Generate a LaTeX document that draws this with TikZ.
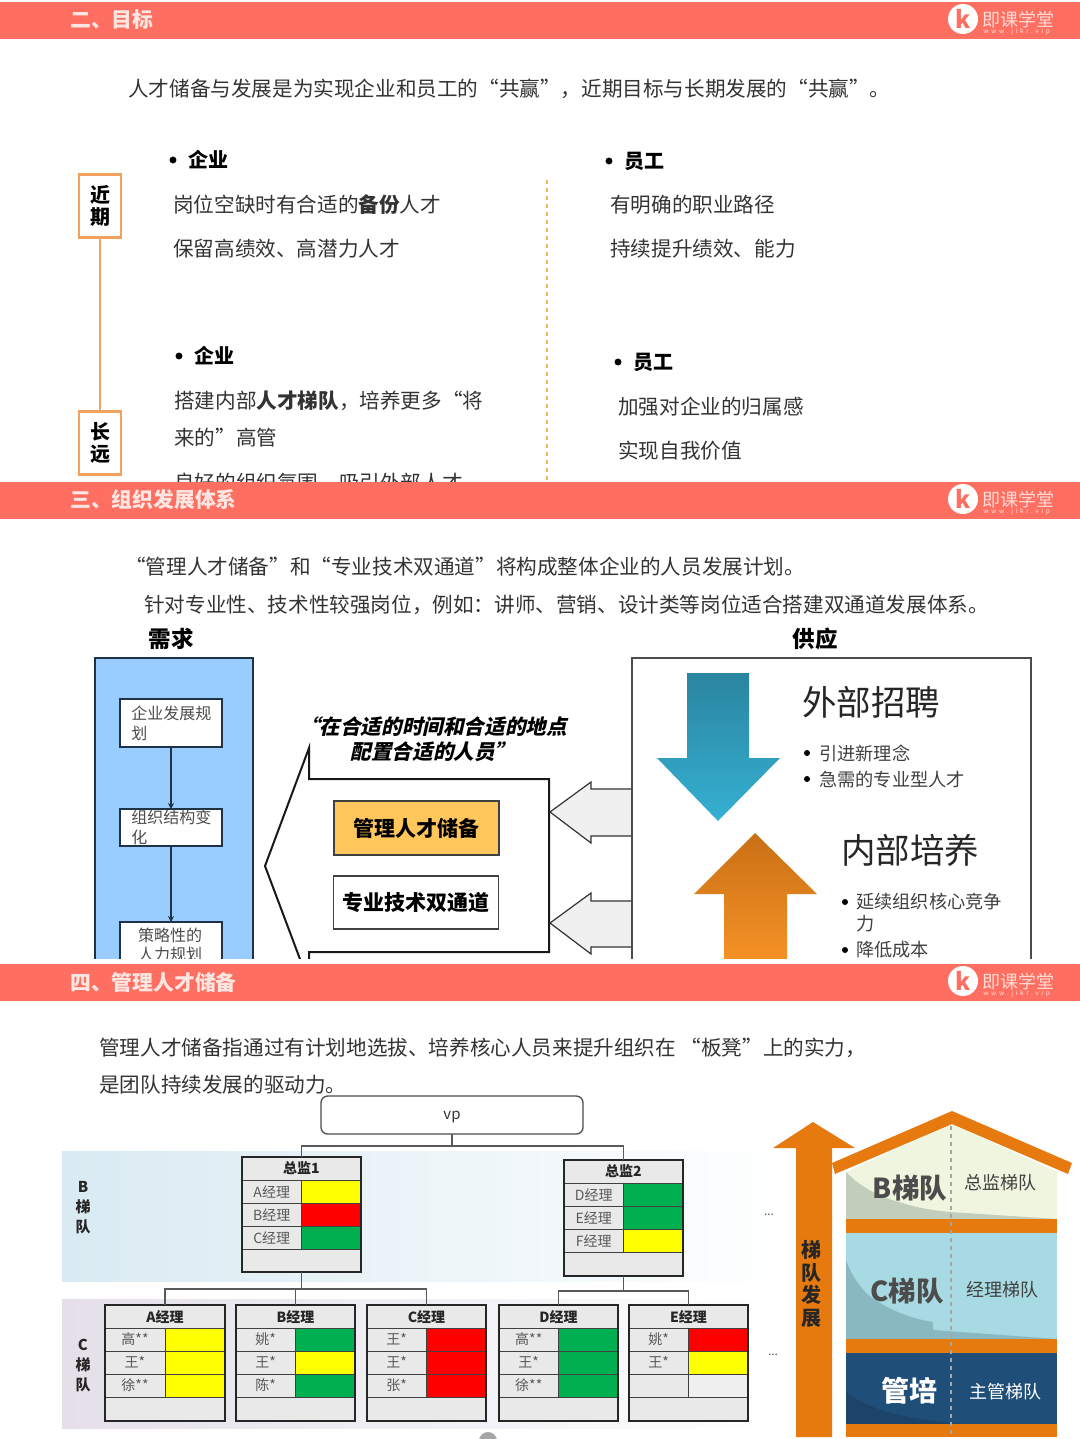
\documentclass[tikz,border=0pt]{standalone}
\usepackage{fontspec}
\setmainfont{Noto Sans CJK SC}
\newfontfamily\slantfont[FakeSlant=0.22]{Noto Sans CJK SC}
\usetikzlibrary{positioning}

\definecolor{bandred}{HTML}{FF6F61}
\definecolor{bandtext}{HTML}{FCE6E1}
\definecolor{logotext}{HTML}{FFDDD6}
\definecolor{bodytext}{HTML}{333333}
\definecolor{termorange}{HTML}{F2A25C}
\definecolor{dashorange}{HTML}{F5B75A}
\definecolor{panelblue}{HTML}{99CCFF}
\definecolor{panelline}{HTML}{1F3347}
\definecolor{keyorange}{HTML}{FFC65C}
\definecolor{houseorange}{HTML}{E67A0F}
\definecolor{cellgray}{HTML}{E9E9E9}
\definecolor{mgryellow}{HTML}{FFFF00}
\definecolor{mgrred}{HTML}{FF0000}
\definecolor{mgrgreen}{HTML}{00B050}
\definecolor{mgrblank}{HTML}{EFEFEF}
\definecolor{downtop}{HTML}{2A85A0}
\definecolor{downend}{HTML}{35B0D2}
\definecolor{uptop}{HTML}{C96F15}
\definecolor{upend}{HTML}{FA9628}
\definecolor{bandbleft}{HTML}{D9EAF2}
\definecolor{bandbmid}{HTML}{DEE3E6}
\definecolor{bandcleft}{HTML}{E4DFE9}
\definecolor{bandcmid}{HTML}{E8E6EA}
\definecolor{roofpale}{HTML}{EFF5DF}
\definecolor{roofshade}{HTML}{C3CDBB}
\definecolor{midpale}{HTML}{A8DAE3}
\definecolor{midshade}{HTML}{89B8C1}
\definecolor{basedark}{HTML}{1F4E79}
\definecolor{baseshade}{HTML}{1B4468}

\newcommand{\pxsize}[1]{\fontsize{\fpeval{#1*0.75}}{\fpeval{#1*0.9}}\selectfont}

\tikzset{
  txt/.style={anchor=west, inner sep=0, yshift=-0.75pt, text=bodytext, font=\pxsize{20.6}},
  head/.style={anchor=west, inner sep=0, text=black, font=\pxsize{20}\bfseries},
  dot/.style={circle, fill=black, inner sep=0, minimum size=5.2},
  pxbox/.style 2 args={minimum width=#1*0.75pt, minimum height=#2*0.75pt, inner sep=0, outer sep=0},
  termbox/.style={pxbox={42}{63}, draw=termorange, line width=1.8pt, fill=white, align=center,
    font=\pxsize{20}\bfseries\linespread{0.95}\selectfont},
  flowbox/.style={pxbox={102}{#1}, draw=panelline, line width=1pt, fill=white},
  flowtxt/.style={inner sep=0, text=black!70, font=\pxsize{16}, align=left},
  bigtxt/.style={anchor=west, inner sep=0, text=black!85, font=\pxsize{34.5}},
  listtxt/.style={anchor=west, inner sep=0, text=black!75, font=\pxsize{18.2}},
  routebox/.style={pxbox={165}{#1}, draw=black!75, line width=1.1pt, font=\pxsize{21}\bfseries},
  grayarrow/.style={draw=black!80, line width=0.9pt, fill=black!6},
  tablebox/.style 2 args={pxbox={#1}{#2}, anchor=north west, draw=black!85, line width=1.5pt},
  tree/.style={draw=black!65, line width=0.8pt},
  rowline/.style={draw=black!75, line width=0.7pt},
  cellname/.style={inner sep=0, text=black!65, font=\pxsize{14}},
  celltitle/.style={inner sep=0, text=black!85, font=\pxsize{14}\bfseries},
  sidetxt/.style={inner sep=0, text=black!85, font=\pxsize{15}\bfseries},
  housebig/.style={inner sep=0, font=\pxsize{27.5}\bfseries},
  housetxt/.style={inner sep=0, font=\pxsize{18}},
}

% section band with its logo
\newcommand{\secband}[3]{
  \fill[bandred] (0,#2) rectangle (1080,#2+37);
  \node[anchor=west, inner sep=0, text=bandtext, font=\pxsize{20.8}\bfseries] (#1title) at (70,#2+18) {#3};
  \node[circle, fill=white, inner sep=0, minimum size=22.5, text=bandred, font=\pxsize{24}\bfseries\itshape] (#1logo) at (963,#2+17) {k};
  \node[anchor=west, inner sep=0, text height=13pt, text depth=0pt, text=logotext, font=\pxsize{18}] (#1name) at (982,#2+16) {即课学堂};
  \node[anchor=west, inner sep=0, text height=4pt, text depth=0pt, text=logotext, font=\pxsize{6.5}\addfontfeature{LetterSpace=41}] (#1site) at (983,#2+29) {www.jikr.vip};
}

% table: name, x, y, width, height, title, rows
\newcommand{\mgrtable}[7]{
  \fill[cellgray] (#2,#3) rectangle (#2+#4,#3+#5);
  \foreach \lab/\col [count=\i] in {#7} {
    \fill[\col] ({#2+#4/2},{#3+23*\i}) rectangle ({#2+#4},{#3+23*\i+23});
    \draw[rowline] (#2,{#3+23*\i}) -- (#2+#4,{#3+23*\i});
    \draw[rowline] ({#2+#4/2},{#3+23*\i}) -- ({#2+#4/2},{#3+23*\i+23});
    \node[cellname] (#1-\i) at ({#2+#4/4},{#3+23*\i+11.5}) {\lab};
  }
  \draw[rowline] (#2,#3+92) -- (#2+#4,#3+92);
  \node[celltitle] (#1-title) at ({#2+#4/2},#3+11.5) {#6};
  \node[tablebox={#4}{#5}] (#1) at (#2,#3) {};
}

\begin{document}
\begin{tikzpicture}[x=0.75pt, y=-0.75pt, >=stealth]
  \useasboundingbox (0,0) rectangle (1080,1439);

  % Goals
  \node[txt] (goalline) at (128,88) {人才储备与发展是为实现企业和员工的“共赢”，近期目标与长期发展的“共赢”。};
  \node[termbox] (nearterm) at (100,206) {近\\期};
  \node[termbox] (longterm) at (100,443) {长\\远};
  \draw[termorange, line width=1pt] (nearterm) -- (longterm);
  \coordinate (dashtop) at (547,180);
  \coordinate (dashend) at (547,481);
  \draw[dashorange, line width=1pt, dashed] (dashtop) -- (dashend);

  \node[dot] (dota) at (173,160) {};
  \node[head, right=8.75pt of dota] (corpa) {企业};
  \node[txt] (corpa1) at (173,204) {岗位空缺时有合适的\textbf{备份}人才};
  \node[txt] (corpa2) at (173,248) {保留高绩效、高潜力人才};
  \node[dot] (dotb) at (609,161) {};
  \node[head, right=8.75pt of dotb] (staffa) {员工};
  \node[txt] (staffa1) at (610,204) {有明确的职业路径};
  \node[txt] (staffa2) at (610,248) {持续提升绩效、能力};
  \node[dot] (dotc) at (179,356) {};
  \node[head, right=8.75pt of dotc] (corpb) {企业};
  \node[txt] (corpb1) at (174,400) {搭建内部\textbf{人才梯队}，培养更多“将};
  \node[txt] (corpb2) at (174,437) {来的”高管};
  \node[txt] (corpb3) at (174,482) {良好的组织氛围，吸引外部人才};
  \node[dot] (dotd) at (618,362) {};
  \node[head, right=8.75pt of dotd] (staffb) {员工};
  \node[txt] (staffb1) at (618,406) {加强对企业的归属感};
  \node[txt] (staffb2) at (618,450) {实现自我价值};

  % Development system
  \node[txt] (sysline1) at (125,566) {“管理人才储备”和“专业技术双通道”将构成整体企业的人员发展计划。};
  \node[txt] (sysline2) at (144,604) {针对专业性、技术性较强岗位，例如：讲师、营销、设计类等岗位适合搭建双通道发展体系。};
  \node[inner sep=0, font=\pxsize{22.5}\bfseries] (demandhead) at (171,639) {需求};
  \node[inner sep=0, font=\pxsize{22.5}\bfseries] (supplyhead) at (815,639) {供应};

  % demand side
  \filldraw[fill=panelblue, draw=panelline, line width=1pt] (95,975) -- (95,658) -- (253,658) -- (253,975);
  \node[flowbox=48] (planbox) at (171,723) {};
  \node[flowbox=37] (orgbox) at (171,827.5) {};
  \node[flowbox=60] (hrbox) at (171,952) {};
  \draw[->, panelline, line width=1pt] (planbox) -- (orgbox);
  \draw[->, panelline, line width=1pt] (orgbox) -- (hrbox);
  \node[flowtxt, anchor=north west] (plantxt) at (131,706) {企业发展规\\划};
  \node[flowtxt, anchor=north west] (orgtxt) at (131,810) {组织结构变\\化};
  \node[flowtxt, anchor=north, align=center] (hrtxt) at (170,928) {策略性的\\人力规划};

  % big arrow
  \node[inner sep=0, align=center, font=\slantfont\pxsize{20.6}\bfseries] (slogan) at (433,739.5) {“在合适的时间和合适的地点\\配置合适的人员”};
  \draw[black!90, line width=1.5pt, fill=white] (309,748) -- (309,779) -- (549,779) -- (549,952) -- (309,952) -- (309,983) -- (265,866) -- cycle;
  \node[routebox=54, fill=keyorange] (reservebox) at (416.5,828) {管理人才储备};
  \node[routebox=53] (dualbox) at (416,902.5) {专业技术双通道};

  % supply side
  \draw[grayarrow] (632,789) -- (591,789) -- (591,782) -- (550,812) -- (591,843) -- (591,836) -- (632,836);
  \draw[grayarrow] (632,901) -- (591,901) -- (591,893) -- (550,923) -- (591,954) -- (591,947) -- (632,947);
  \draw[black!70, line width=1pt] (632,975) -- (632,658) -- (1031,658) -- (1031,975);
  \shade[top color=downtop, bottom color=downend]
    (687,673) -- (749,673) -- (749,758) -- (780,758) -- (718,821) -- (657,758) -- (687,758) -- cycle;
  \shade[top color=uptop, bottom color=upend]
    (755,833) -- (817,894) -- (787,894) -- (787,975) -- (724,975) -- (724,894) -- (694,894) -- cycle;
  \node[bigtxt] (outhire) at (802,702) {外部招聘};
  \node[dot, minimum size=4.5] (hiredot1) at (807,753) {};
  \node[listtxt] (hire1) at (819,753) {引进新理念};
  \node[dot, minimum size=4.5] (hiredot2) at (807,779) {};
  \node[listtxt] (hire2) at (819,779.5) {急需的专业型人才};
  \node[bigtxt] (intrain) at (841,850) {内部培养};
  \node[dot, minimum size=4.5] (traindot1) at (845,902) {};
  \node[listtxt] (train1) at (856,902) {延续组织核心竞争};
  \node[listtxt] (train1b) at (856,924) {力};
  \node[dot, minimum size=4.5] (traindot2) at (845,950) {};
  \node[listtxt] (train2) at (856,950) {降低成本};

  % Section bands go over the cut-off content
  \fill[white] (0,959) rectangle (1080,964);
  \secband{goal}{2}{二、目标}
  \secband{sys}{482}{三、组织发展体系}
  \secband{res}{964}{四、管理人才储备}

  % Reserve
  \node[txt] (resline1) at (99,1047) {管理人才储备指通过有计划地选拔、培养核心人员来提升组织在 “板凳”上的实力，};
  \node[txt] (resline2) at (99,1084) {是团队持续发展的驱动力。};
  \shade[left color=bandbleft, middle color=bandbmid, right color=white] (62,1151) rectangle (792,1281);
  \shade[left color=bandcleft, middle color=bandcmid, right color=white] (62,1299) rectangle (782,1428);
  \foreach \ch/\yy in {B/1187,梯/1207,队/1227,C/1345,梯/1365,队/1385} {
    \node[sidetxt] at (83,\yy) {\ch};
  }

  \node[pxbox={262}{38}, draw=black!70, line width=1pt, rounded corners=5pt, fill=white, text height=7pt, text depth=0pt, font=\pxsize{15}, text=black!80] (vp) at (452,1115) {vp};

  \mgrtable{dirone}{242}{1157}{119}{115}{总监1}{A经理/mgryellow,B经理/mgrred,C经理/mgrgreen}
  \mgrtable{dirtwo}{564}{1160}{119}{116}{总监2}{D经理/mgrgreen,E经理/mgrgreen,F经理/mgryellow}
  \mgrtable{mgra}{105}{1305}{120}{116}{A经理}{高**/mgryellow,王*/mgryellow,徐**/mgryellow}
  \mgrtable{mgrb}{236}{1305}{119}{116}{B经理}{姚*/mgrgreen,王*/mgryellow,陈*/mgrgreen}
  \mgrtable{mgrc}{367}{1305}{119}{116}{C经理}{王*/mgrred,王*/mgrred,张*/mgrred}
  \mgrtable{mgrd}{499}{1305}{119}{116}{D经理}{高**/mgrgreen,王*/mgrgreen,徐**/mgrgreen}
  \mgrtable{mgre}{629}{1305}{119}{116}{E经理}{姚*/mgrred,王*/mgryellow,/mgrblank}

  % tree lines
  \draw[tree] (vp.south) -- ++(0,12) -| (dirone.north);
  \draw[tree] (vp.south) -- ++(0,12) -| (dirtwo.north);
  \draw[tree] (dirone.south) -- ++(0,17) -| (mgra.north);
  \draw[tree] (dirone.south) -- ++(0,17) -| (mgrb.north);
  \draw[tree] (dirone.south) -- ++(0,17) -| (mgrc.north);
  \draw[tree] (dirtwo.south) -- ++(0,15) -| (mgrd.north);
  \draw[tree] (dirtwo.south) -- ++(0,15) -| (mgre.north);
  \node[inner sep=0, text=black!65, font=\pxsize{12}] (moretop) at (769,1215) {...};
  \node[inner sep=0, text=black!65, font=\pxsize{12}] (morelow) at (773,1355) {...};

  % rising arrow
  \fill[houseorange] (813,1122) -- (855,1148) -- (832,1148) -- (832,1437) -- (796,1437) -- (796,1148) -- (773,1148) -- cycle;
  \node[inner sep=0, align=center, text=black!85, font=\pxsize{20}\bfseries] (risetxt) at (811,1284) {梯\\[-1.2pt]队\\[-1.2pt]发\\[-1.2pt]展};

  % house
  \fill[roofpale] (846,1172) -- (952,1124) -- (1057,1172) -- (1057,1219) -- (846,1219) -- cycle;
  \fill[roofshade] (846,1172) .. controls (865,1192) and (890,1200) .. (903,1203) .. controls (920,1209) and (940,1211) .. (950,1212) -- (1057,1219) -- (846,1219) -- cycle;
  \fill[midpale] (846,1233) rectangle (1057,1339);
  \fill[midshade] (846,1260) .. controls (855,1285) and (870,1298) .. (880,1303) .. controls (900,1315) and (920,1320) .. (933,1322) -- (933,1330) -- (1057,1339) -- (846,1339) -- cycle;
  \fill[basedark] (846,1353) rectangle (1057,1424);
  \fill[baseshade] (846,1392) .. controls (870,1410) and (900,1418) .. (960,1424) -- (846,1424) -- cycle;
  \fill[houseorange] (846,1219) rectangle (1057,1233);
  \fill[houseorange] (846,1339) rectangle (1057,1353);
  \fill[houseorange] (846,1424) rectangle (1057,1437);
  \fill[houseorange, line join=round] (832,1163) -- (952,1111) -- (1072,1163) -- (1068,1174) -- (952,1124) -- (835,1174) -- cycle;
  \coordinate (ridge) at (951,1126);
  \coordinate (floor) at (951,1435);
  \draw[black!35, line width=1pt, dashed] (ridge) -- (floor);
  \node[housebig, text=black!70] (blabel) at (910,1188) {B梯队};
  \node[housetxt, text=black!75] (bname) at (1000,1183) {总监梯队};
  \node[housebig, text=black!70] (clabel) at (907,1291) {C梯队};
  \node[housetxt, text=black!75] (cname) at (1002,1290) {经理梯队};
  \node[housebig, text=white, font=\pxsize{28}\bfseries] (mlabel) at (909,1391) {管培};
  \node[housetxt, text=white] (mname) at (1005,1392) {主管梯队};
  \fill[black!35] (488,1441) circle (9);
\end{tikzpicture}
\end{document}
